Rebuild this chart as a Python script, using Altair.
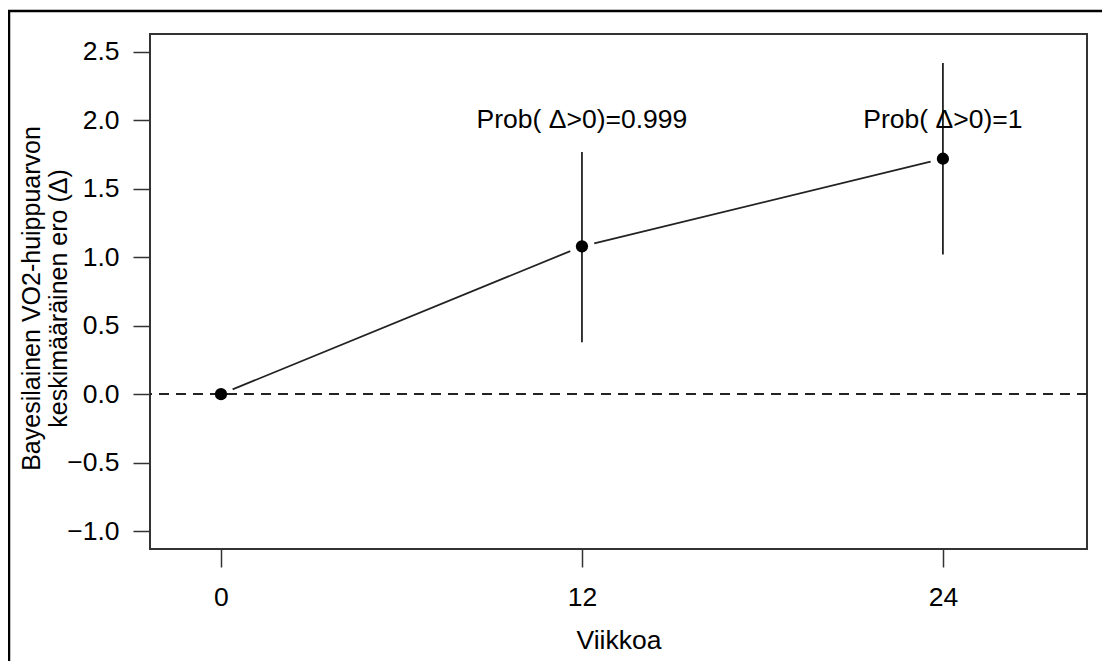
import altair as alt
import pandas as pd

weeks = [0, 12, 24]
means = [0.0, 1.08, 1.72]
lower = [None, 0.38, 1.02]
upper = [None, 1.77, 2.42]
labels = ["", "Prob( \u0394>0)=0.999", "Prob( \u0394>0)=1"]
label_y = [None, 2.0, 2.0]
y_ticks = [-1.0, -0.5, 0.0, 0.5, 1.0, 1.5, 2.0, 2.5]
x_ticks = [0, 12, 24]

df = pd.DataFrame({"week": weeks, "mean": means, "lo": lower, "hi": upper,
                   "label": labels, "ly": label_y})

FONT = "Liberation Sans"
FS = 26.5
W, H = 937, 515
xs = alt.Scale(domain=[-2.36, 28.79], nice=False, zero=False)
ys = alt.Scale(domain=[-1.1315, 2.6315], nice=False, zero=False)

x_enc = alt.X("week:Q", scale=xs, title="Viikkoa",
              axis=alt.Axis(values=x_ticks, format="d", domain=False, grid=False,
                            tickSize=18, tickWidth=1.5, tickColor="#333",
                            labelFontSize=FS, labelFont=FONT, labelColor="#000",
                            labelPadding=17, titleFontSize=FS, titleFont=FONT,
                            titleFontWeight="normal", titleColor="#000",
                            titleBaseline="middle", titleY=91))
y_enc = alt.Y("mean:Q", scale=ys,
              title=["Bayesilainen VO2-huippuarvon", "keskim\u00e4\u00e4r\u00e4inen ero (\u0394)"],
              axis=alt.Axis(values=y_ticks, format=".1f", domain=False, grid=False,
                            tickSize=17, tickWidth=1.5, tickColor="#333",
                            labelFontSize=FS, labelFont=FONT, labelColor="#000",
                            labelPadding=14, titleFontSize=25, titleFont=FONT,
                            titleFontWeight="normal", titleColor="#000",
                            titleAngle=270, titleAlign="center", titleBaseline="middle",
                            titleLineHeight=27, titleX=-119, titleY=264))

base = alt.Chart(df)

line = base.mark_line(color="#222", strokeWidth=1.8).encode(x=x_enc, y=y_enc)
halo = base.mark_point(filled=True, color="white", opacity=1, size=640, shape="circle").encode(
    x="week:Q", y="mean:Q")
zero = base.mark_rule(color="#222", strokeWidth=1.6, strokeDash=[10, 7]).encode(
    y=alt.datum(0))
err = base.mark_rule(color="#222", strokeWidth=1.8).encode(
    x="week:Q", y="lo:Q", y2="hi:Q")
pts = base.mark_point(filled=True, color="#000", opacity=1, size=150, shape="circle").encode(
    x="week:Q", y="mean:Q")
txt = base.mark_text(font=FONT, fontSize=FS, color="#000", align="center",
                     baseline="middle").encode(x="week:Q", y="ly:Q", text="label:N")

one = alt.Chart(pd.DataFrame({"a": [0]}))
border_left = one.mark_rule(color="#000", strokeWidth=2.5).encode(
    x=alt.value(-141), y=alt.value(-24), y2=alt.value(640))
border_top = one.mark_rule(color="#000", strokeWidth=2.5).encode(
    x=alt.value(-142), x2=alt.value(W + 20), y=alt.value(-23))

chart = alt.layer(line, halo, zero, err, pts, txt, border_left, border_top).properties(
    width=W, height=H,
    autosize=alt.AutoSizeParams(type="none"),
    padding={"left": 142, "top": 26, "right": 15, "bottom": 112},
).configure(background="white").configure_view(stroke="#333", strokeWidth=2)

chart.save("out.html", embed_options={"renderer": "svg", "actions": False})
